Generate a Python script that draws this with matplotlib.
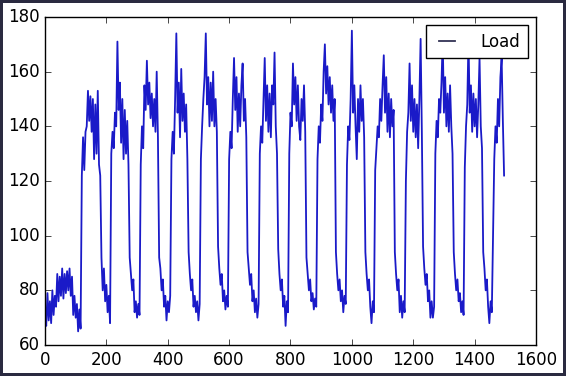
import numpy as np
import matplotlib
matplotlib.use("Agg")
import matplotlib.pyplot as plt

plt.style.use("classic")

step = 4  # one value read every 4 samples

# load readings, grouped roughly one day per line
day0 = [72, 67, 79, 69, 76, 68, 80, 71, 78, 74, 86, 76, 85, 78, 88, 77, 86, 79, 87, 80,
        88, 78, 85, 71, 78, 70, 75, 65, 73, 66]
day1 = [122, 136, 124, 138, 140, 153, 142, 151, 138, 150, 128, 148, 130, 153, 126, 122,
        92, 80, 88, 76, 82, 72, 78, 68]
day2 = [130, 138, 132, 145, 140, 171, 146, 156, 134, 150, 128, 146, 130, 142, 126, 92,
        86, 80, 84, 72, 76, 70, 75, 71]
day3 = [126, 140, 132, 155, 146, 164, 148, 156, 143, 152, 140, 150, 138, 160, 136, 92,
        88, 80, 84, 74, 78, 69, 76, 72, 78]
day4 = [128, 138, 130, 150, 174, 145, 156, 136, 161, 142, 152, 138, 148, 128, 94, 86,
        80, 84, 74, 78, 72, 76, 69, 75]
day5 = [128, 140, 150, 158, 174, 148, 158, 140, 156, 142, 160, 140, 150, 138, 96, 88,
        82, 86, 76, 80, 73, 78, 74, 128]
day6 = [138, 132, 150, 165, 146, 158, 138, 152, 140, 155, 163, 142, 150, 136, 94, 88,
        82, 86, 76, 80, 72, 77, 70, 75]
day7 = [130, 140, 134, 150, 165, 142, 155, 138, 152, 136, 155, 148, 167, 140, 130, 95,
        86, 80, 84, 74, 78, 67, 76, 72]
day8 = [130, 145, 140, 163, 148, 158, 142, 155, 140, 135, 150, 142, 155, 138, 92, 86,
        80, 84, 76, 79, 73, 77, 74]
day9 = [128, 140, 134, 148, 142, 160, 170, 152, 162, 148, 158, 145, 155, 142, 150, 94,
        86, 80, 84, 76, 80, 72, 78, 75]
day10 = [126, 140, 135, 150, 175, 145, 155, 140, 128, 150, 138, 155, 142, 150, 136, 94,
         86, 80, 84, 74, 68, 76, 72, 124]
day11 = [132, 140, 136, 150, 142, 155, 166, 145, 158, 138, 152, 136, 150, 140, 146, 94,
         86, 80, 84, 72, 78, 70, 76, 72]
day12 = [120, 138, 145, 163, 142, 155, 138, 150, 136, 148, 132, 150, 172, 138, 96, 88,
         82, 86, 76, 80, 70, 76, 70, 74]
day13 = [130, 142, 136, 150, 145, 156, 172, 145, 158, 140, 152, 138, 155, 140, 130, 94,
         86, 80, 84, 76, 79, 72, 76, 71]
day14 = [125, 140, 148, 172, 145, 155, 138, 152, 140, 150, 136, 148, 165, 140, 132, 94,
         88, 80, 84, 74, 68, 76, 72]
day15 = [100, 128, 140, 134, 150, 140, 158, 165, 142, 122]

load = np.array(day0 + day1 + day2 + day3 + day4 + day5 + day6 + day7 + day8 + day9
                + day10 + day11 + day12 + day13 + day14 + day15)
t = np.arange(len(load)) * step

fig = plt.figure(figsize=(5.66, 3.76), dpi=100)
fig.patch.set_facecolor("white")
fig.patch.set_edgecolor("#2a2a40")
fig.patch.set_linewidth(3)
ax = fig.add_axes([0.0795, 0.0824, 0.8675, 0.8724])

ax.plot(t, load, color="#1a1ac8", linewidth=1.3, label="Load")
ax.set_xlim(0, 1600)
ax.set_ylim(60, 180)
leg = ax.legend(loc="upper right", fontsize=12, borderpad=0.45, handlelength=1.6,
                handletextpad=1.2, borderaxespad=0.5)
leg.get_lines()[0].set_color("#333355")

fig.savefig("out.png", dpi=100, facecolor=fig.get_facecolor(), edgecolor=fig.get_edgecolor())
